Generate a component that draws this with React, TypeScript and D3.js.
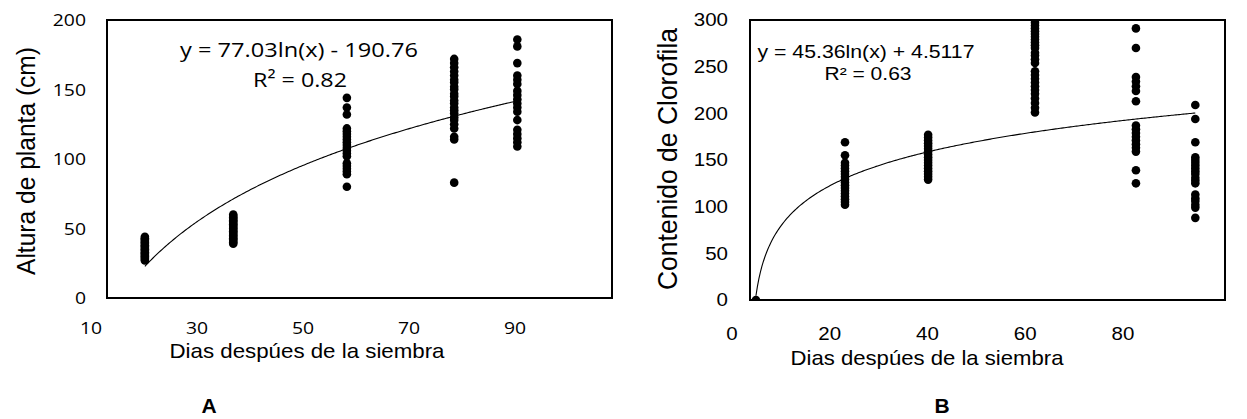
import React from "react";
import * as d3 from "d3";

// Panel A: plant height (cm) by days after sowing
const daysA = [16, 30, 48, 65, 75];
const alturaD16 = [44, 43, 42, 41, 40, 39, 38, 37, 36, 35, 34, 33, 32, 31, 30, 29, 28, 27];
const alturaD30 = [60, 59, 58, 57, 56, 55, 54, 53, 52, 51, 50, 49, 48, 47, 46, 45, 44, 43, 42, 41, 40, 39];
const alturaD48 = [144, 137, 132, 122, 120, 118, 116, 114, 112, 110, 108, 106, 104, 102, 97, 95, 93, 91, 89, 80];
const alturaD65 = [172, 169, 166, 163, 160, 157, 155, 152, 150, 147, 145, 142, 140, 137, 135, 133, 130, 128, 125, 122, 116, 114, 83];
const alturaD75 = [186, 181, 169, 160, 157, 154, 149, 146, 143, 140, 137, 134, 128, 121, 118, 115, 112, 109];
const alturaByDay = [alturaD16, alturaD30, alturaD48, alturaD65, alturaD75];

// Panel B: chlorophyll content by days after sowing
const daysB = [1, 16, 30, 48, 65, 75];
const cloroD1 = [0];
const cloroD16 = [169, 155, 147, 144, 141, 138, 135, 132, 129, 126, 123, 120, 117, 114, 111, 108, 105, 102];
const cloroD30 = [177, 174, 171, 168, 165, 162, 159, 156, 153, 150, 147, 144, 141, 138, 135, 132, 129];
const cloroD48 = [300, 297, 294, 291, 288, 285, 282, 279, 276, 273, 270, 265, 262, 258, 254, 245, 241, 237, 233, 229, 225, 221, 216, 211, 206, 201];
const cloroD65 = [291, 270, 239, 234, 229, 224, 213, 187, 183, 179, 175, 171, 167, 163, 159, 139, 125];
const cloroD75 = [209, 194, 169, 153, 150, 147, 144, 141, 138, 135, 131, 128, 125, 113, 109, 106, 102, 99, 88];
const cloroByDay = [cloroD1, cloroD16, cloroD30, cloroD48, cloroD65, cloroD75];

// Axis ticks
const xTicksA = [10, 30, 50, 70, 90];
const yTicksA = [0, 50, 100, 150, 200];
const xTicksB = [0, 20, 40, 60, 80];
const yTicksB = [0, 50, 100, 150, 200, 250, 300];

// Logarithmic trend lines y = a ln(x) + b
const fitA = { a: 77.03, b: -190.76, r2: 0.82, from: 16, to: 75 };
const fitB = { a: 45.36, b: 4.5117, r2: 0.63, from: 1, to: 75 };

const eqA = `y = ${fitA.a.toFixed(2)}ln(x) - ${Math.abs(fitA.b).toFixed(2)}`;
const eqB = `y = ${fitB.a.toFixed(2)}ln(x) + ${fitB.b.toFixed(4)}`;
const r2A = `R² = ${fitA.r2.toFixed(2)}`;
const r2B = `R² = ${fitB.r2.toFixed(2)}`;

const ARIAL = "'Liberation Sans', Arial, sans-serif";
const SEGOE = "'Open Sans', 'Noto Sans', sans-serif";

type PanelProps = {
  id: string;
  days: number[];
  values: number[][];
  fit: { a: number; b: number; from: number; to: number };
  xDomain: [number, number];
  yDomain: [number, number];
  box: { left: number; right: number; top: number; bottom: number };
  xTicks: number[];
  yTicks: number[];
  tickRange: [number, number];
  tickFont: string;
  tickSize: number;
  tickBaseline: number;
  yTickRight: number;
  eq: string;
  r2: string;
  eqFont: string;
  eqSize: number;
  eqX: number;
  eqY: number;
  eqLen: number;
  r2X: number;
  r2Y: number;
  r2Len: number;
  xTitleX: number;
  xTitleY: number;
  xTitleLen: number;
  xTitleSize: number;
  yTitle: string;
  yTitleX: number;
  yTitleY: number;
  yTitleLen: number;
  yTitleSize: number;
  letter: string;
  letterX: number;
  letterY: number;
};

function Panel(p: PanelProps) {
  const x = d3.scaleLinear().domain(p.xDomain).range([p.box.left, p.box.right]);
  const y = d3.scaleLinear().domain(p.yDomain).range([p.box.bottom, p.box.top]);
  const tickX = d3.scaleLinear().domain(p.xDomain).range(p.tickRange);
  const fitPts = d3.range(p.fit.from, p.fit.to + 0.001, 0.25).map((d) => [d, p.fit.a * Math.log(d) + p.fit.b] as [number, number]);
  const line = d3.line<[number, number]>().x((d) => x(d[0])).y((d) => y(d[1]));
  const clipId = `clip-${p.id}`;
  return (
    <g>
      <defs>
        <clipPath id={clipId}>
          <rect x={p.box.left} y={p.box.top} width={p.box.right - p.box.left} height={p.box.bottom - p.box.top} />
        </clipPath>
      </defs>
      <g clipPath={`url(#${clipId})`}>
        {p.days.map((day, i) =>
          p.values[i].map((v, j) => <circle key={`${i}-${j}`} cx={x(day)} cy={y(v)} r={4.3} fill="#000" />)
        )}
        <path d={line(fitPts) || ""} fill="none" stroke="#000" strokeWidth={1.1} />
      </g>
      <rect
        x={p.box.left}
        y={p.box.top}
        width={p.box.right - p.box.left}
        height={p.box.bottom - p.box.top}
        fill="none"
        stroke="#000"
        strokeWidth={2}
      />
      {p.yTicks.map((t) => (
        <g key={`y${t}`} transform={`translate(${p.yTickRight},${y(t) + p.tickSize * 0.36}) scale(1.14,1)`}>
          <text textAnchor="end" fontFamily={p.tickFont} fontSize={p.tickSize} fill="#000">
            {t}
          </text>
        </g>
      ))}
      {p.xTicks.map((t) => (
        <g key={`x${t}`} transform={`translate(${tickX(t)},${p.tickBaseline}) scale(1.14,1)`}>
          <text textAnchor="middle" fontFamily={p.tickFont} fontSize={p.tickSize} fill="#000">
            {t}
          </text>
        </g>
      ))}
      <text
        x={p.eqX}
        y={p.eqY}
        textAnchor="middle"
        fontFamily={p.eqFont}
        fontSize={p.eqSize}
        textLength={p.eqLen}
        lengthAdjust="spacingAndGlyphs"
      >
        {p.eq}
      </text>
      <text
        x={p.r2X}
        y={p.r2Y}
        textAnchor="middle"
        fontFamily={p.eqFont}
        fontSize={p.eqSize}
        textLength={p.r2Len}
        lengthAdjust="spacingAndGlyphs"
      >
        {p.r2}
      </text>
      <text
        x={p.xTitleX}
        y={p.xTitleY}
        textAnchor="middle"
        fontFamily={ARIAL}
        fontSize={p.xTitleSize}
        textLength={p.xTitleLen}
        lengthAdjust="spacingAndGlyphs"
      >
        Dias despúes de la siembra
      </text>
      <text
        transform={`translate(${p.yTitleX},${p.yTitleY}) rotate(-90)`}
        textAnchor="middle"
        fontFamily={ARIAL}
        fontSize={p.yTitleSize}
        textLength={p.yTitleLen}
        lengthAdjust="spacingAndGlyphs"
      >
        {p.yTitle}
      </text>
      <text x={p.letterX} y={p.letterY} textAnchor="middle" fontFamily={ARIAL} fontWeight="bold" fontSize={21}>
        {p.letter}
      </text>
    </g>
  );
}

export default function App() {
  return (
    <svg
      width={1247}
      height={419}
      viewBox="0 0 1247 419"
      style={{ position: "absolute", left: 0, top: 0, background: "#fff" }}
    >
      <rect width={1247} height={419} fill="#fff" />
      <Panel
        id="a"
        days={daysA}
        values={alturaByDay}
        fit={fitA}
        xDomain={[10, 90]}
        yDomain={[0, 200]}
        box={{ left: 107, right: 612, top: 20, bottom: 298 }}
        xTicks={xTicksA}
        yTicks={yTicksA}
        tickRange={[91, 515]}
        tickFont={SEGOE}
        tickSize={17}
        tickBaseline={334}
        yTickRight={86}
        eq={eqA}
        r2={r2A}
        eqFont={SEGOE}
        eqSize={20}
        eqX={299}
        eqY={57}
        eqLen={238}
        r2X={300}
        r2Y={87}
        r2Len={94}
        xTitleX={307}
        xTitleY={358}
        xTitleLen={275}
        xTitleSize={21}
        yTitle="Altura de planta (cm)"
        yTitleX={35}
        yTitleY={161}
        yTitleLen={228}
        yTitleSize={26}
        letter="A"
        letterX={209}
        letterY={413}
      />
      <Panel
        id="b"
        days={daysB}
        values={cloroByDay}
        fit={fitB}
        xDomain={[0, 80]}
        yDomain={[0, 300]}
        box={{ left: 750, right: 1225, top: 20, bottom: 300 }}
        xTicks={xTicksB}
        yTicks={yTicksB}
        tickRange={[732, 1123]}
        tickFont={ARIAL}
        tickSize={18}
        tickBaseline={340}
        yTickRight={728}
        eq={eqB}
        r2={r2B}
        eqFont={ARIAL}
        eqSize={18}
        eqX={866}
        eqY={58}
        eqLen={217}
        r2X={868}
        r2Y={80}
        r2Len={87}
        xTitleX={927}
        xTitleY={365}
        xTitleLen={273}
        xTitleSize={21}
        yTitle="Contenido de Clorofila"
        yTitleX={677}
        yTitleY={159}
        yTitleLen={262}
        yTitleSize={28}
        letter="B"
        letterX={942}
        letterY={413}
      />
    </svg>
  );
}
